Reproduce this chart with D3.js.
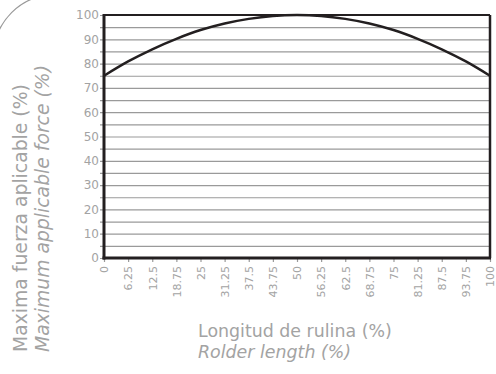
<!DOCTYPE html>
<html>
<head>
<meta charset="utf-8">
<script src="https://cdn.jsdelivr.net/npm/d3@7"></script>
<style>
  body { margin: 0; background: #fff; }
  svg text { font-family: 'DejaVu Sans', sans-serif; }
</style>
</head>
<body>
<div id="main"></div>
<script>
const w = 496, h = 374;
const margin = { top: 15, right: 6, bottom: 116, left: 104 };

// rolder length (%) positions and max applicable force (%)
const lengths = [0, 6.25, 12.5, 18.75, 25, 31.25, 37.5, 43.75, 50, 56.25, 62.5, 68.75, 75, 81.25, 87.5, 93.75, 100];
const force   = [75, 80.9, 85.9, 90.2, 93.8, 96.5, 98.4, 99.6, 100, 99.6, 98.4, 96.5, 93.8, 90.2, 85.9, 80.9, 75];
const gridSteps = [0, 5, 10, 15, 20, 25, 30, 35, 40, 45, 50, 55, 60, 65, 70, 75, 80, 85, 90, 95, 100];
const yLabels = [0, 10, 20, 30, 40, 50, 60, 70, 80, 90, 100];
const yTitle = ['Maxima fuerza aplicable (%)', 'Maximum applicable force (%)'];
const xTitle = ['Longitud de rulina (%)', 'Rolder length (%)'];

const grey = '#a3a3a3';

const svg = d3.select('#main')
              .append('svg')
              .attr('width', w)
              .attr('height', h)

// decorative rounded corner top left
svg.append('path')
    .attr('d', d3.arc()({ innerRadius: 60, outerRadius: 60, startAngle: -Math.PI / 2, endAngle: 0 }))
    .attr('transform', 'translate(54,55)')
    .attr('fill', 'none')
    .attr('stroke', '#999')
    .attr('stroke-width', 1.2)

const xScale = d3.scaleLinear()
                 .domain([0, 100])
                 .range([margin.left, w - margin.right])
const yScale = d3.scaleLinear()
                 .domain([0, 100])
                 .range([h - margin.bottom, margin.top])
const plotW = xScale(100) - xScale(0)

const yAxis = d3.axisLeft(yScale)
                .tickValues(gridSteps)
                .tickSizeInner(-plotW)
                .tickSizeOuter(0)
                .tickFormat(d => yLabels.includes(d) ? d : '')

const yLine = svg.append('g')
                 .attr('transform', 'translate(' + margin.left + ',0)')
                 .call(yAxis)
yLine.select('.domain').remove()
yLine.selectAll('line')
     .attr('x1', -4)
     .attr('stroke', '#9a9a9a')
     .attr('stroke-width', 1.2)
yLine.selectAll('text')
     .attr('fill', grey)
     .attr('x', -5)
     .style('font-size', '12px')

const xAxis = d3.axisBottom(xScale)
                .tickValues(lengths)
                .tickSizeInner(4)
                .tickSizeOuter(0)
                .tickFormat(d => d)

const xLine = svg.append('g')
                 .attr('transform', 'translate(0,' + yScale(0) + ')')
                 .call(xAxis)
xLine.select('.domain').remove()
xLine.selectAll('line')
     .attr('stroke', '#9a9a9a')
     .attr('stroke-width', 1.2)
xLine.selectAll('text')
     .attr('fill', grey)
     .attr('transform', 'rotate(-90)')
     .attr('text-anchor', 'end')
     .attr('x', -8)
     .attr('y', 0)
     .attr('dy', '0.35em')
     .style('font-size', '11px')

// frame
const frame = svg.append('g').attr('stroke', '#231f20').attr('fill', 'none')
frame.append('line')
     .attr('x1', xScale(0)).attr('x2', xScale(100))
     .attr('y1', yScale(100)).attr('y2', yScale(100))
     .attr('stroke-width', 2)
frame.append('line')
     .attr('x1', xScale(100)).attr('x2', xScale(100))
     .attr('y1', yScale(100)).attr('y2', yScale(0))
     .attr('stroke-width', 2.5)
frame.append('line')
     .attr('x1', xScale(0)).attr('x2', xScale(0))
     .attr('y1', yScale(100) - 1).attr('y2', yScale(0) + 1.5)
     .attr('stroke-width', 3)
frame.append('line')
     .attr('x1', xScale(0) - 1.5).attr('x2', xScale(100) + 1)
     .attr('y1', yScale(0)).attr('y2', yScale(0))
     .attr('stroke-width', 3)

const line = d3.line()
               .x((d, i) => xScale(lengths[i]))
               .y(d => yScale(d))
               .curve(d3.curveMonotoneX)

svg.append('path')
    .datum(force)
    .attr('d', line)
    .attr('fill', 'none')
    .attr('stroke', '#231f20')
    .attr('stroke-width', 2.5)

// titles
yTitle.forEach((t, i) => {
    svg.append('text')
        .text(t)
        .attr('transform', 'translate(' + (27 + i * 22) + ',352) rotate(-90)')
        .attr('fill', grey)
        .style('font-size', '18.8px')
        .style('font-style', i ? 'italic' : 'normal')
})
xTitle.forEach((t, i) => {
    svg.append('text')
        .text(t)
        .attr('x', 198)
        .attr('y', 337 + i * 21)
        .attr('fill', grey)
        .style('font-size', '17.4px')
        .style('font-style', i ? 'italic' : 'normal')
})
</script>
</body>
</html>
